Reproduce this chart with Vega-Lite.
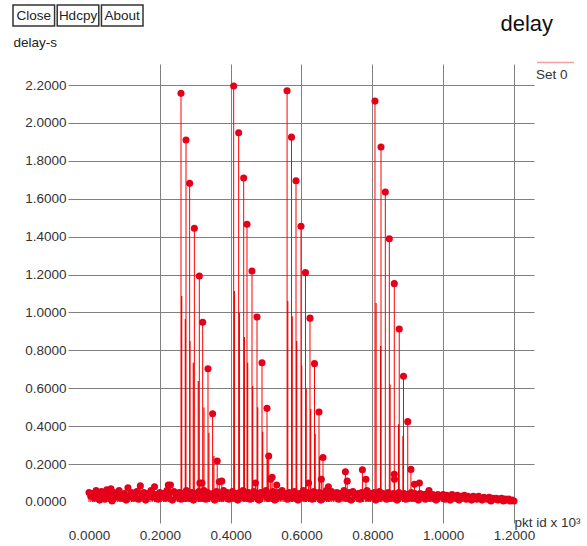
{
  "$schema": "https://vega.github.io/schema/vega-lite/v6.json",
  "background": "white",
  "padding": {"left": 12, "top": 4, "right": 0, "bottom": 0},
  "spacing": 0,
  "columns": 1,
  "align": "none",
  "resolve": {"legend": {"color": "independent"}},
  "config": {"view": {"stroke": null}, "font": "Liberation Sans"},
  "datasets": {
    "buttons": [{"button": "Close"}, {"button": "Hdcpy"}, {"button": "About"}],
    "packets": [
      {"pkt":0,"delay":0.05},{"pkt":0.005,"delay":0.03},{"pkt":0.01,"delay":0.045},{"pkt":0.015,"delay":0.02},{"pkt":0.02,"delay":0.06},{"pkt":0.025,"delay":0.035},{"pkt":0.03,"delay":0.01},{"pkt":0.035,"delay":0.055},{"pkt":0.04,"delay":0.04},{"pkt":0.045,"delay":0.015},{"pkt":0.05,"delay":0.065},{"pkt":0.055,"delay":0.03},{"pkt":0.06,"delay":0.045},{"pkt":0.065,"delay":0.005},{"pkt":0.07,"delay":0.05},{"pkt":0.075,"delay":0.025},{"pkt":0.08,"delay":0.04},{"pkt":0.085,"delay":0.06},{"pkt":0.09,"delay":0.02},{"pkt":0.095,"delay":0.035},
      {"pkt":0.1,"delay":0.045},{"pkt":0.105,"delay":0.01},{"pkt":0.11,"delay":0.075},{"pkt":0.115,"delay":0.03},{"pkt":0.12,"delay":0.05},{"pkt":0.125,"delay":0.02},{"pkt":0.13,"delay":0.04},{"pkt":0.135,"delay":0.055},{"pkt":0.14,"delay":0.015},{"pkt":0.145,"delay":0.085},{"pkt":0.15,"delay":0.035},{"pkt":0.155,"delay":0.05},{"pkt":0.16,"delay":0.01},{"pkt":0.165,"delay":0.045},{"pkt":0.17,"delay":0.03},{"pkt":0.175,"delay":0.06},{"pkt":0.18,"delay":0.025},{"pkt":0.185,"delay":0.08},{"pkt":0.19,"delay":0.04},{"pkt":0.195,"delay":0.015},
      {"pkt":0.2,"delay":0.05},{"pkt":0.205,"delay":0.03},{"pkt":0.21,"delay":0.045},{"pkt":0.215,"delay":0.02},{"pkt":0.22,"delay":0.06},{"pkt":0.225,"delay":0.035},{"pkt":0.23,"delay":0.09},{"pkt":0.235,"delay":0.01},{"pkt":0.24,"delay":0.055},{"pkt":0.245,"delay":0.04},{"pkt":0.25,"delay":0.025},{"pkt":0.255,"delay":0.05},{"pkt":0.26,"delay":0.015},{"pkt":0.265,"delay":0.045},{"pkt":0.27,"delay":0.03},{"pkt":0.275,"delay":0.06},{"pkt":0.28,"delay":0.02},{"pkt":0.285,"delay":0.04},{"pkt":0.29,"delay":0.05},{"pkt":0.295,"delay":0.01},
      {"pkt":0.3,"delay":0.045},{"pkt":0.305,"delay":0.03},{"pkt":0.31,"delay":0.055},{"pkt":0.315,"delay":0.02},{"pkt":0.32,"delay":0.04},{"pkt":0.325,"delay":0.06},{"pkt":0.33,"delay":0.015},{"pkt":0.335,"delay":0.05},{"pkt":0.34,"delay":0.035},{"pkt":0.345,"delay":0.025},{"pkt":0.35,"delay":0.045},{"pkt":0.355,"delay":0.01},{"pkt":0.36,"delay":0.055},{"pkt":0.365,"delay":0.03},{"pkt":0.37,"delay":0.04},{"pkt":0.375,"delay":0.02},{"pkt":0.38,"delay":0.06},{"pkt":0.385,"delay":0.035},{"pkt":0.39,"delay":0.05},{"pkt":0.395,"delay":0.015},
      {"pkt":0.4,"delay":0.04},{"pkt":0.405,"delay":0.055},{"pkt":0.41,"delay":0.025},{"pkt":0.415,"delay":0.045},{"pkt":0.42,"delay":0.01},{"pkt":0.425,"delay":0.05},{"pkt":0.43,"delay":0.03},{"pkt":0.435,"delay":0.06},{"pkt":0.44,"delay":0.02},{"pkt":0.445,"delay":0.04},{"pkt":0.45,"delay":0.05},{"pkt":0.455,"delay":0.015},{"pkt":0.46,"delay":0.035},{"pkt":0.465,"delay":0.055},{"pkt":0.47,"delay":0.025},{"pkt":0.475,"delay":0.045},{"pkt":0.48,"delay":0.01},{"pkt":0.485,"delay":0.05},{"pkt":0.49,"delay":0.03},{"pkt":0.495,"delay":0.04},
      {"pkt":0.5,"delay":0.06},{"pkt":0.505,"delay":0.02},{"pkt":0.51,"delay":0.045},{"pkt":0.515,"delay":0.035},{"pkt":0.52,"delay":0.055},{"pkt":0.525,"delay":0.01},{"pkt":0.53,"delay":0.04},{"pkt":0.535,"delay":0.05},{"pkt":0.54,"delay":0.025},{"pkt":0.545,"delay":0.06},{"pkt":0.55,"delay":0.03},{"pkt":0.555,"delay":0.045},{"pkt":0.56,"delay":0.015},{"pkt":0.565,"delay":0.05},{"pkt":0.57,"delay":0.035},{"pkt":0.575,"delay":0.02},{"pkt":0.58,"delay":0.055},{"pkt":0.585,"delay":0.04},{"pkt":0.59,"delay":0.01},{"pkt":0.595,"delay":0.045},
      {"pkt":0.6,"delay":0.03},{"pkt":0.605,"delay":0.06},{"pkt":0.61,"delay":0.02},{"pkt":0.615,"delay":0.05},{"pkt":0.62,"delay":0.035},{"pkt":0.625,"delay":0.045},{"pkt":0.63,"delay":0.015},{"pkt":0.635,"delay":0.055},{"pkt":0.64,"delay":0.025},{"pkt":0.645,"delay":0.04},{"pkt":0.65,"delay":0.05},{"pkt":0.655,"delay":0.01},{"pkt":0.66,"delay":0.045},{"pkt":0.665,"delay":0.03},{"pkt":0.67,"delay":0.06},{"pkt":0.675,"delay":0.02},{"pkt":0.68,"delay":0.04},{"pkt":0.685,"delay":0.055},{"pkt":0.69,"delay":0.025},{"pkt":0.695,"delay":0.035},
      {"pkt":0.7,"delay":0.05},{"pkt":0.705,"delay":0.015},{"pkt":0.71,"delay":0.045},{"pkt":0.715,"delay":0.03},{"pkt":0.72,"delay":0.06},{"pkt":0.725,"delay":0.02},{"pkt":0.73,"delay":0.04},{"pkt":0.735,"delay":0.05},{"pkt":0.74,"delay":0.01},{"pkt":0.745,"delay":0.055},{"pkt":0.75,"delay":0.035},{"pkt":0.755,"delay":0.025},{"pkt":0.76,"delay":0.045},{"pkt":0.765,"delay":0.015},{"pkt":0.77,"delay":0.05},{"pkt":0.775,"delay":0.03},{"pkt":0.78,"delay":0.04},{"pkt":0.785,"delay":0.06},{"pkt":0.79,"delay":0.02},{"pkt":0.795,"delay":0.045},
      {"pkt":0.8,"delay":0.035},{"pkt":0.805,"delay":0.05},{"pkt":0.81,"delay":0.01},{"pkt":0.815,"delay":0.04},{"pkt":0.82,"delay":0.055},{"pkt":0.825,"delay":0.025},{"pkt":0.83,"delay":0.045},{"pkt":0.835,"delay":0.03},{"pkt":0.84,"delay":0.015},{"pkt":0.845,"delay":0.05},{"pkt":0.85,"delay":0.035},{"pkt":0.855,"delay":0.02},{"pkt":0.86,"delay":0.045},{"pkt":0.865,"delay":0.04},{"pkt":0.87,"delay":0.01},{"pkt":0.875,"delay":0.05},{"pkt":0.88,"delay":0.03},{"pkt":0.885,"delay":0.025},{"pkt":0.89,"delay":0.045},{"pkt":0.895,"delay":0.015},
      {"pkt":0.9,"delay":0.04},{"pkt":0.905,"delay":0.03},{"pkt":0.91,"delay":0.05},{"pkt":0.915,"delay":0.02},{"pkt":0.92,"delay":0.045},{"pkt":0.925,"delay":0.035},{"pkt":0.93,"delay":0.01},{"pkt":0.935,"delay":0.045},{"pkt":0.94,"delay":0.025},{"pkt":0.945,"delay":0.04},{"pkt":0.95,"delay":0.015},{"pkt":0.955,"delay":0.045},{"pkt":0.96,"delay":0.03},{"pkt":0.965,"delay":0.02},{"pkt":0.97,"delay":0.04},{"pkt":0.975,"delay":0.035},{"pkt":0.98,"delay":0.01},{"pkt":0.985,"delay":0.04},{"pkt":0.99,"delay":0.025},{"pkt":0.995,"delay":0.03},
      {"pkt":1,"delay":0.04},{"pkt":1.005,"delay":0.015},{"pkt":1.01,"delay":0.035},{"pkt":1.015,"delay":0.03},{"pkt":1.02,"delay":0.01},{"pkt":1.025,"delay":0.04},{"pkt":1.03,"delay":0.025},{"pkt":1.035,"delay":0.02},{"pkt":1.04,"delay":0.035},{"pkt":1.045,"delay":0.01},{"pkt":1.05,"delay":0.03},{"pkt":1.055,"delay":0.025},{"pkt":1.06,"delay":0.035},{"pkt":1.065,"delay":0.015},{"pkt":1.07,"delay":0.03},{"pkt":1.075,"delay":0.02},{"pkt":1.08,"delay":0.01},{"pkt":1.085,"delay":0.03},{"pkt":1.09,"delay":0.025},{"pkt":1.095,"delay":0.015},
      {"pkt":1.1,"delay":0.03},{"pkt":1.105,"delay":0.02},{"pkt":1.11,"delay":0.01},{"pkt":1.115,"delay":0.025},{"pkt":1.12,"delay":0.02},{"pkt":1.125,"delay":0.015},{"pkt":1.13,"delay":0.025},{"pkt":1.135,"delay":0.005},{"pkt":1.14,"delay":0.02},{"pkt":1.145,"delay":0.015},{"pkt":1.15,"delay":0.02},{"pkt":1.155,"delay":0.01},{"pkt":1.16,"delay":0.015},{"pkt":1.165,"delay":0.02},{"pkt":1.17,"delay":0.005},{"pkt":1.175,"delay":0.015},{"pkt":1.18,"delay":0.01},{"pkt":1.185,"delay":0.015},{"pkt":1.19,"delay":0.005},{"pkt":1.195,"delay":0.01},{"pkt":1.2,"delay":0.005},
      {"pkt":0.062,"delay":0.07},{"pkt":0.224,"delay":0.09},{"pkt":0.319,"delay":0.1},{"pkt":0.313,"delay":0.1},{"pkt":0.368,"delay":0.107},{"pkt":0.375,"delay":0.11},{"pkt":0.47,"delay":0.1},{"pkt":0.513,"delay":0.12},{"pkt":0.517,"delay":0.13},{"pkt":0.53,"delay":0.09},{"pkt":0.62,"delay":0.1},{"pkt":0.656,"delay":0.12},{"pkt":0.676,"delay":0.08},{"pkt":0.724,"delay":0.16},{"pkt":0.729,"delay":0.11},{"pkt":0.772,"delay":0.17},{"pkt":0.782,"delay":0.12},{"pkt":0.862,"delay":0.146},{"pkt":0.8625,"delay":0.12},{"pkt":0.919,"delay":0.093},{"pkt":0.933,"delay":0.1},{"pkt":0.96,"delay":0.06},
      {"pkt":0.2598,"delay":2.156},{"pkt":0.2739,"delay":1.91},{"pkt":0.2842,"delay":1.681},{"pkt":0.2975,"delay":1.444},{"pkt":0.3115,"delay":1.192},{"pkt":0.321,"delay":0.948},{"pkt":0.336,"delay":0.703},{"pkt":0.349,"delay":0.466},{"pkt":0.362,"delay":0.216},
      {"pkt":0.4085,"delay":2.195},{"pkt":0.4226,"delay":1.948},{"pkt":0.4368,"delay":1.709},{"pkt":0.4461,"delay":1.465},{"pkt":0.4602,"delay":1.219},{"pkt":0.4744,"delay":0.976},{"pkt":0.4885,"delay":0.735},{"pkt":0.5026,"delay":0.494},{"pkt":0.5074,"delay":0.243},
      {"pkt":0.5593,"delay":2.17},{"pkt":0.5718,"delay":1.925},{"pkt":0.5845,"delay":1.695},{"pkt":0.5986,"delay":1.455},{"pkt":0.6113,"delay":1.21},{"pkt":0.624,"delay":0.97},{"pkt":0.6367,"delay":0.73},{"pkt":0.6494,"delay":0.475},{"pkt":0.6607,"delay":0.235},
      {"pkt":0.8075,"delay":2.115},{"pkt":0.8245,"delay":1.873},{"pkt":0.8367,"delay":1.635},{"pkt":0.848,"delay":1.389},{"pkt":0.862,"delay":1.152},{"pkt":0.876,"delay":0.913},{"pkt":0.888,"delay":0.663},{"pkt":0.9,"delay":0.424},{"pkt":0.909,"delay":0.172}
    ],
    "stems": [
      {"pkt":0.2617,"delay":1.087},{"pkt":0.272,"delay":0.965},{"pkt":0.285,"delay":0.849},{"pkt":0.2945,"delay":0.735},{"pkt":0.3085,"delay":0.638},{"pkt":0.3245,"delay":0.498},{"pkt":0.3385,"delay":0.366},{"pkt":0.3525,"delay":0.243},
      {"pkt":0.4104,"delay":1.113},{"pkt":0.4245,"delay":0.999},{"pkt":0.4387,"delay":0.87},{"pkt":0.448,"delay":0.735},{"pkt":0.4621,"delay":0.612},{"pkt":0.4763,"delay":0.5},{"pkt":0.4904,"delay":0.37},{"pkt":0.5045,"delay":0.25},
      {"pkt":0.5612,"delay":1.06},{"pkt":0.5737,"delay":0.98},{"pkt":0.5864,"delay":0.85},{"pkt":0.6005,"delay":0.72},{"pkt":0.6132,"delay":0.6},{"pkt":0.6259,"delay":0.49},{"pkt":0.6386,"delay":0.36},{"pkt":0.6513,"delay":0.24},
      {"pkt":0.8105,"delay":1.05},{"pkt":0.8235,"delay":0.823},{"pkt":0.85,"delay":0.62},{"pkt":0.874,"delay":0.41},{"pkt":0.8865,"delay":0.348}
    ]
  },
  "concat": [
    {
      "width": 485,
      "height": 21,
      "data": {"name": "buttons"},
      "title": {"text": "delay", "orient": "bottom", "anchor": "end", "offset": 4, "baseline": "alphabetic", "fontSize": 22, "fontWeight": "normal", "font": "Liberation Sans", "color": "#111"},
      "encoding": {
        "x": {"field": "button", "type": "nominal", "sort": null, "axis": null, "scale": {"range": [-55, 75], "paddingInner": 0.06, "paddingOuter": 0}}
      },
      "layer": [
        {"mark": {"type": "rect", "fill": "white", "stroke": "#333333", "strokeWidth": 1.5}},
        {"mark": {"type": "text", "font": "Liberation Sans", "fontSize": 13.5, "color": "#222222"}, "encoding": {"text": {"field": "button"}}}
      ]
    },
    {
      "width": 466,
      "height": 459,
      "encoding": {
        "x": {"field": "pkt", "type": "quantitative", "scale": {"domain": [-0.0593, 1.2565], "nice": false, "zero": false},
          "axis": {"values": [0, 0.2, 0.4, 0.6, 0.8, 1.0, 1.2], "format": ".4f", "grid": true, "gridColor": "#808080", "gridWidth": 1,
            "gridOpacity": {"condition": {"test": "datum.value === 0", "value": 0}, "value": 1},
            "domain": false, "ticks": false, "labelPadding": 5, "labelFont": "Liberation Sans", "labelFontSize": 13.5, "labelColor": "#333333", "labelFlush": false, "labelOverlap": false,
            "title": "pkt id x 10³", "titleX": 446, "titleY": 3, "titleAlign": "left", "titleBaseline": "alphabetic", "titleFont": "Liberation Sans", "titleFontSize": 13.5, "titleFontWeight": "normal", "titleColor": "#333333"}},
        "y": {"field": "delay", "type": "quantitative", "scale": {"domain": [-0.1108, 2.3108], "nice": false, "zero": false},
          "axis": {"values": [0, 0.2, 0.4, 0.6, 0.8, 1.0, 1.2, 1.4, 1.6, 1.8, 2.0, 2.2], "format": ".4f", "grid": true, "gridColor": "#808080", "gridWidth": 1,
            "gridOpacity": {"condition": {"test": "datum.value === 0", "value": 0}, "value": 1},
            "domain": false, "ticks": false, "labelPadding": 2, "labelFont": "Liberation Sans", "labelFontSize": 13.5, "labelColor": "#333333", "labelOverlap": false,
            "title": "delay-s", "titleX": -55, "titleY": -18, "titleAngle": 0, "titleAlign": "left", "titleBaseline": "alphabetic", "titleFont": "Liberation Sans", "titleFontSize": 13.5, "titleFontWeight": "normal", "titleColor": "#222222"}}
      },
      "layer": [
        {"data": {"name": "packets"}, "mark": {"type": "rule", "color": "#ff0000", "strokeWidth": 1}, "encoding": {"y2": {"datum": 0}}},
        {"data": {"name": "stems"}, "mark": {"type": "rule", "color": "#ee0000", "strokeWidth": 1.2}, "encoding": {"y2": {"datum": 0}}},
        {"data": {"name": "packets"}, "mark": {"type": "circle", "size": 50, "opacity": 1},
          "encoding": {"color": {"datum": "Set 0", "type": "nominal", "scale": {"range": ["#e4001a"]},
            "legend": {"orient": "none", "legendX": 468, "legendY": -21, "title": "Set 0", "titleOrient": "bottom", "labelExpr": "''", "symbolType": "stroke", "symbolSize": 1369, "symbolStrokeColor": "#f2a0a0", "symbolStrokeWidth": 1.5, "titleFont": "Liberation Sans", "titleFontSize": 13.5, "titleFontWeight": "normal", "titleColor": "#333333", "padding": 0, "titlePadding": 0}}}}
      ]
    }
  ]
}
